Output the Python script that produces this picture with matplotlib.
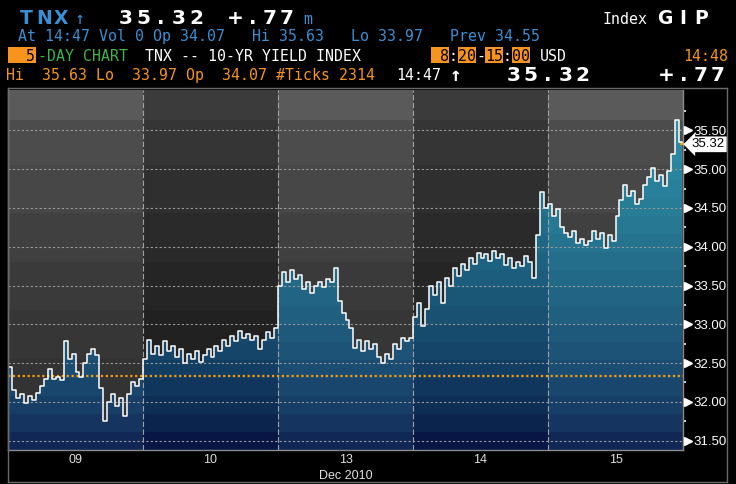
import numpy as np
import matplotlib
matplotlib.use('Agg')
import matplotlib.pyplot as plt
import matplotlib.transforms as mtransforms
from matplotlib.patches import Rectangle, Polygon
from matplotlib.lines import Line2D

# header values
ticker = 'TNX'
last_px = 35.32
chg = 0.77
op_px = 34.07
hi_px = 35.63
lo_px = 33.97
prev_px = 34.55
n_ticks = 2314
prior_close = 32.34   # orange dotted line

# 5 days of intraday prices
days = ['09', '10', '13', '14', '15']
month = 'Dec 2010'
d09 = [32.45, 32.15, 32.05, 32.10, 31.98, 32.08, 32.02, 32.12, 32.20, 32.30,
       32.42, 32.30, 32.32, 32.28, 32.78, 32.55, 32.62, 32.38, 32.32, 32.50,
       32.62, 32.68, 32.60, 32.18, 31.75, 32.00, 32.10, 31.95, 32.05, 31.82,
       32.10, 32.25, 32.20, 32.30]
d10 = [32.55, 32.80, 32.62, 32.72, 32.60, 32.78, 32.65, 32.72, 32.58, 32.68,
       32.50, 32.62, 32.55, 32.65, 32.52, 32.60, 32.68, 32.58, 32.72, 32.65,
       32.80, 32.72, 32.85, 32.78, 32.92, 32.83, 32.88, 32.80, 32.85, 32.68,
       32.80, 32.90, 32.82, 32.95]
d13 = [33.50, 33.68, 33.55, 33.70, 33.58, 33.64, 33.45, 33.55, 33.40, 33.50,
       33.55, 33.48, 33.58, 33.55, 33.72, 33.30, 33.15, 33.05, 32.95, 32.70,
       32.80, 32.65, 32.78, 32.68, 32.75, 32.58, 32.50, 32.62, 32.55, 32.75,
       32.68, 32.82, 32.78, 32.82]
d14 = [33.10, 33.28, 32.98, 33.20, 33.50, 33.38, 33.55, 33.28, 33.60, 33.50,
       33.72, 33.62, 33.78, 33.70, 33.85, 33.78, 33.92, 33.85, 33.90, 33.82,
       33.95, 33.85, 33.90, 33.76, 33.85, 33.72, 33.80, 33.75, 33.88, 33.80,
       33.60, 34.15, 34.70, 34.50]
d15 = [34.55, 34.40, 34.48, 34.25, 34.18, 34.12, 34.20, 34.05, 34.10, 34.02,
       34.08, 34.20, 34.10, 34.18, 33.98, 34.15, 34.08, 34.40, 34.60, 34.80,
       34.65, 34.72, 34.55, 34.62, 34.80, 34.90, 35.02, 34.85, 34.92, 34.78,
       34.98, 35.20, 35.63, 35.35]
day_vals = [d09, d10, d13, d14, d15]

y_ticks = [31.5, 32.0, 32.5, 33.0, 33.5, 34.0, 34.5, 35.0, 35.5]
y_minor = [31.75, 32.25, 32.75, 33.25, 33.75, 34.25, 34.75, 35.25, 35.75]
ymin, ymax = 31.38, 36.02

W, H = 736, 484
fig = plt.figure(figsize=(W / 100, H / 100), dpi=100, facecolor='black')
ax = fig.add_axes([8 / W, 34 / H, 675 / W, 360 / H], facecolor='black')
ax.set_xlim(0, 5)
ax.set_ylim(ymin, ymax)

# gray background bands, lighter/darker per day
bg_edges = [31.38, 31.93, 32.55, 33.18, 33.80, 34.43, 35.05, 35.63, 36.02]
gray_light = ['#303030', '#333333', '#363636', '#3a3a3a', '#404040', '#474747', '#4c4c4c', '#5a5a5a']
gray_dark = ['#1b1b1b', '#1e1e1e', '#212121', '#252525', '#2a2a2a', '#2f2f2f', '#353535', '#3b3b3b']
for k in range(5):
    cols = gray_light if k % 2 == 0 else gray_dark
    for j in range(len(bg_edges) - 1):
        ax.add_patch(Rectangle((k, bg_edges[j]), 1, bg_edges[j + 1] - bg_edges[j],
                               facecolor=cols[j], edgecolor='none', zorder=1))

# price series as steps
x_all, y_all = [], []
for k, vals in enumerate(day_vals):
    n = len(vals)
    x_all += list(k + np.arange(n) / n)
    y_all += vals
x_all.append(4.995)
y_all.append(last_px)
x = np.array(x_all)
y = np.array(y_all)
xs = np.repeat(x, 2)[1:]
ys = np.repeat(y, 2)[:-1]

verts = np.column_stack([np.r_[xs[0], xs, xs[-1]], np.r_[ymin, ys, ymin]])
clip = Polygon(verts, closed=True, facecolor='none', edgecolor='none', transform=ax.transData)
ax.add_patch(clip)

# teal-to-navy gradient under the line
fill_edges = np.linspace(ymin, ymax, 21)
mid = ((fill_edges[:-1] + fill_edges[1:]) / 2 - ymin) / (ymax - ymin)
t = mid ** 0.6
top_l, bot_l = np.array([46, 150, 170]) / 255, np.array([14, 26, 76]) / 255
top_d, bot_d = np.array([42, 140, 162]) / 255, np.array([3, 8, 56]) / 255
for k in range(5):
    top, bot = (top_l, bot_l) if k % 2 == 0 else (top_d, bot_d)
    for j in range(len(fill_edges) - 1):
        c = bot + (top - bot) * t[j]
        r = Rectangle((k, fill_edges[j]), 1, fill_edges[j + 1] - fill_edges[j],
                      facecolor=c, edgecolor='none', zorder=2)
        ax.add_patch(r)
        r.set_clip_path(clip)

# grid
for v in y_ticks:
    ax.axhline(v, color='#9a9a9a', lw=0.8, dashes=(2, 2), zorder=3)
for k in range(1, 5):
    ax.axvline(k, color='#a0a0a0', lw=0.8, dashes=(5, 2), zorder=3)
ax.axhline(prior_close, color='#f39c12', lw=1.6, dashes=(1, 1.2), zorder=3)

ax.plot(xs, ys, color='white', lw=1.1, zorder=4)

# spines
for s in ['left', 'bottom', 'right']:
    ax.spines[s].set_color('#8a8a8a')
    ax.spines[s].set_linewidth(1)
ax.spines['top'].set_visible(False)

# y axis on right
ax.yaxis.tick_right()
ax.set_yticks(y_ticks)
ax.set_yticklabels(['%.2f' % v for v in y_ticks])
ax.set_yticks(y_minor, minor=True)
ax.tick_params(axis='y', which='major', length=0, pad=7.5, labelcolor='white',
               labelsize=9.5, labelfontfamily='Liberation Sans')
ax.tick_params(axis='y', which='minor', length=2.5, width=1.2, color='white')
trans_y = mtransforms.blended_transform_factory(ax.transAxes, ax.transData)
ax.plot([1.0075] * len(y_ticks), y_ticks, ls='none', marker='>', ms=6, color='white',
        transform=trans_y, clip_on=False, zorder=5)
ax.plot([1.0], [last_px], ls='none', marker='_', ms=5, mew=1.5, color='#f39c12',
        transform=trans_y, clip_on=False, zorder=6)
ax.text(1.013, last_px, '%.2f' % last_px, transform=trans_y, va='center', ha='left',
        color='black', fontsize=9.5, family='Liberation Sans', zorder=7,
        bbox=dict(boxstyle='larrow,pad=0.14', facecolor='white', edgecolor='none'))

# x axis day labels
ax.set_xticks(np.arange(5) + 0.5)
ax.set_xticklabels(days)
ax.tick_params(axis='x', length=0, pad=3, labelcolor='#e0e0e0', labelsize=9,
               labelfontfamily='Liberation Sans')
trans_x = mtransforms.blended_transform_factory(ax.transData, ax.transAxes)
ax.text(2.5, -0.055, month, transform=trans_x, ha='center', va='top', color='#e0e0e0',
        fontsize=9, family='Liberation Sans')

# outer frame
for (x0, y0, x1, y1) in [(8, 88, 727, 88), (8, 88, 8, 482), (727, 88, 727, 482), (8, 482, 727, 482)]:
    fig.add_artist(Line2D([x0 / W, x1 / W], [1 - y0 / H, 1 - y1 / H], color='#6a6a6a', lw=1,
                          transform=fig.transFigure))

# header
mono = 'DejaVu Sans Mono'
blue = '#3a8fd4'
orange = '#f7941d'
green = '#3eb34a'


def put(px, py, s, color, size=10.75, weight='normal', family=mono, ha='left'):
    fig.text(px / W, 1 - py / H, s, color=color, fontsize=size, fontweight=weight,
             family=family, va='baseline', ha=ha)


def spaced(px, py, s, pitch, color, size, weight='bold'):
    for i, ch in enumerate(s):
        put(px + i * pitch + pitch / 2, py, ch, color, size, weight, 'DejaVu Sans', 'center')


def box(px0, py0, px1, py1, color):
    fig.add_artist(Rectangle((px0 / W, 1 - py1 / H), (px1 - px0) / W, (py1 - py0) / H,
                             facecolor=color, edgecolor='none', transform=fig.transFigure))


# row 1
spaced(18, 24, ticker, 17.3, blue, 13.5)
put(75, 24, '\u2191', blue, 12)
spaced(117, 24, '%.2f' % last_px, 17.6, 'white', 14.5)
spaced(227, 24, ('%+.2f' % chg).replace('0.', '.'), 17.0, 'white', 14.5)
put(303, 24, 'm', blue)
put(603, 24, 'Index', 'white')
spaced(656, 24, 'GIP', 18, 'white', 13.5)

# row 2
put(18, 41, 'At 14:47 Vol 0 Op %.2f   Hi %.2f   Lo %.2f   Prev %.2f' % (op_px, hi_px, lo_px, prev_px), blue)

# row 3
box(8, 47, 36, 63, orange)
put(35, 61, '5', 'black', ha='right')
put(38, 61, '-DAY CHART', green)
put(145, 61, '%s -- 10-YR YIELD INDEX' % ticker, 'white')
for c0 in [0, 3, 6, 9]:
    box(431 + c0 * 9, 47, 431 + (c0 + 2) * 9, 63, orange)
sess = ' 8:20-15:00'
for i, ch in enumerate(sess):
    col = 'white' if ch in ':-' else 'black'
    put(431 + i * 9, 61, ch, col)
put(540, 61, 'USD', 'white')
put(728, 61, '14:48', orange, ha='right')

# row 4
put(6, 80, 'Hi  %.2f Lo  %.2f Op  %.2f #Ticks %d' % (hi_px, lo_px, op_px, n_ticks), orange)
put(396, 80, '14:47', 'white')
put(450, 81, '\u2191', 'white', 14, 'bold')
spaced(505, 81, '%.2f' % last_px, 17.2, 'white', 14.5)
spaced(658, 81, ('%+.2f' % chg).replace('0.', '.'), 17.0, 'white', 14.5)

fig.savefig('out.png', dpi=100, facecolor='black')
